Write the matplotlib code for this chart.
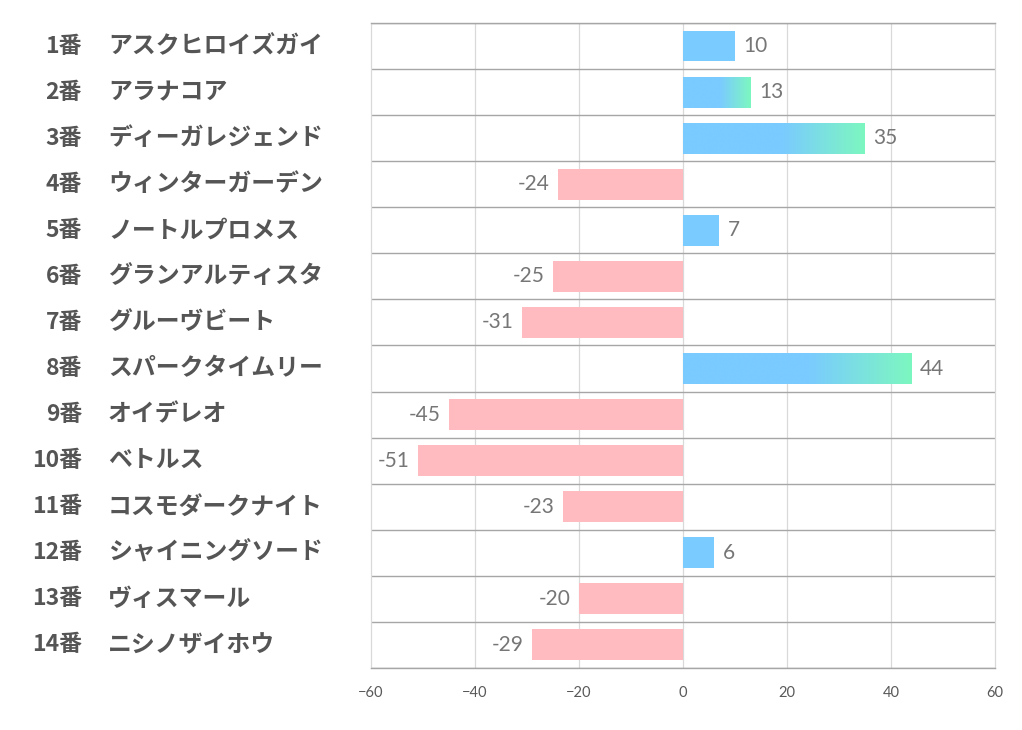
import numpy as np
import matplotlib.pyplot as plt
import matplotlib.transforms as mtransforms
from matplotlib.colors import LinearSegmentedColormap

plt.rcParams['font.family'] = ['Noto Sans CJK JP', 'DejaVu Sans']

numbers = ['1番', '2番', '3番', '4番', '5番', '6番', '7番',
           '8番', '9番', '10番', '11番', '12番', '13番', '14番']
names = ['アスクヒロイズガイ', 'アラナコア', 'ディーガレジェンド', 'ウィンターガーデン',
         'ノートルプロメス', 'グランアルティスタ', 'グルーヴビート', 'スパークタイムリー',
         'オイデレオ', 'ベトルス', 'コスモダークナイト', 'シャイニングソード',
         'ヴィスマール', 'ニシノザイホウ']
values = [10, 13, 35, -24, 7, -25, -31, 44, -45, -51, -23, 6, -20, -29]

blue = '#7ACBFF'
green = '#7DF7C0'
pink = '#FFBBBF'
grad = LinearSegmentedColormap.from_list('bg', [(0, blue), (0.55, blue), (1, green)])

fig = plt.figure(figsize=(10.22, 7.3), dpi=100)
ax = fig.add_axes([0.363, 0.085, 0.6105, 0.8835])

n = len(values)
bar_h = 0.67

# grid
for gx in [-40, -20, 0, 20, 40]:
    ax.axvline(gx, color='#D9D9D9', lw=0.9, zorder=0)
ax.hlines(np.arange(-0.5, n, 1), -60, 60, color='#A6A6A6', lw=1.0, zorder=1)

for i, v in enumerate(values):
    if v < 0:
        ax.barh(i, v, height=bar_h, color=pink, zorder=2)
        ax.annotate(str(v), (v, i), xytext=(-6, 0), textcoords='offset points',
                    ha='right', va='center', fontsize=15, color='#767676', family='Lato')
    else:
        if v > 10:
            # blue to green gradient along the bar
            img = grad(np.linspace(0, 1, 256))[None, :, :]
            ax.imshow(img, extent=(0, v, i + bar_h / 2, i - bar_h / 2),
                      aspect='auto', zorder=2, interpolation='bilinear')
        else:
            ax.barh(i, v, height=bar_h, color=blue, zorder=2)
        ax.annotate(str(v), (v, i), xytext=(6, 0), textcoords='offset points',
                    ha='left', va='center', fontsize=15, color='#767676', family='Lato')

ax.set_xlim(-60, 60)
ax.set_ylim(n - 0.5, -0.5)

ax.set_xticks(np.arange(-60, 61, 20))
ax.set_yticks([])
ax.tick_params(axis='x', length=0, pad=13, labelsize=10.5, labelcolor='#595959')
for lbl in ax.get_xticklabels():
    lbl.set_family('Lato')

for s in ['left', 'right']:
    ax.spines[s].set_color('#D9D9D9')
    ax.spines[s].set_linewidth(0.9)
for s in ['top', 'bottom']:
    ax.spines[s].set_color('#A6A6A6')
    ax.spines[s].set_linewidth(1.0)

trans = mtransforms.blended_transform_factory(fig.transFigure, ax.transData)
for i in range(n):
    ax.text(0.0802, i, numbers[i], transform=trans, ha='right', va='center',
            fontsize=16.5, fontweight='bold', color='#555555')
    ax.text(0.1057, i, names[i], transform=trans, ha='left', va='center',
            fontsize=17.2, fontweight='bold', color='#555555')

fig.savefig('out.png', dpi=100)
